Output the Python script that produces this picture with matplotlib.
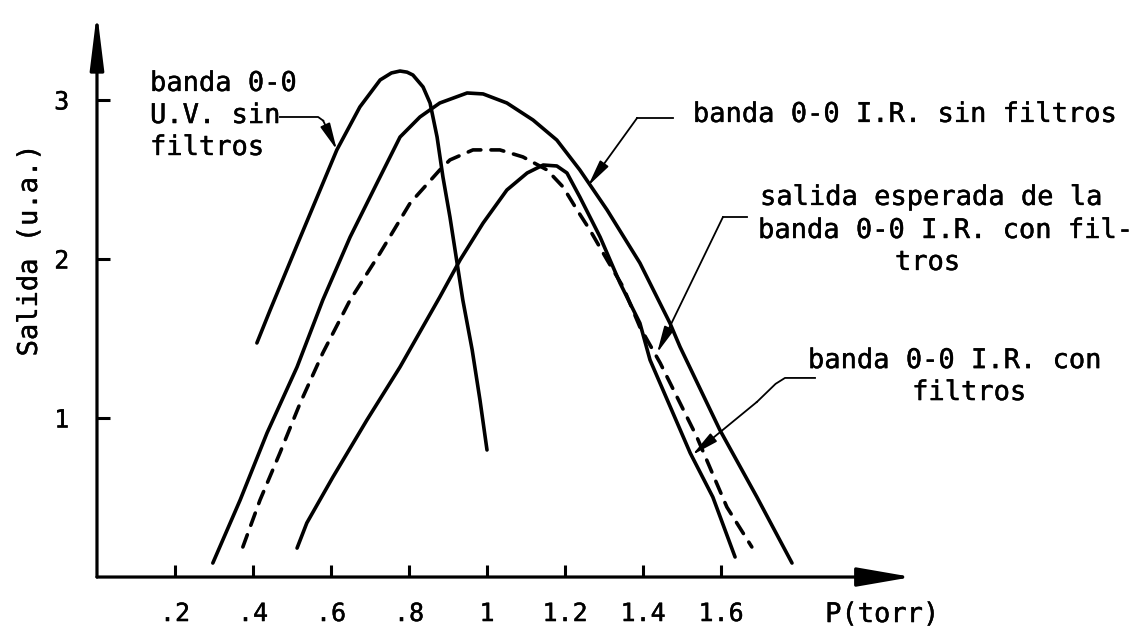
import matplotlib
matplotlib.use("Agg")
import matplotlib.pyplot as plt
import matplotlib.patheffects as pe

# Pressure (torr) and output (arbitrary units) for each band
uv_p = [0.410, 0.444, 0.513, 0.615, 0.674, 0.726, 0.755, 0.777, 0.795, 0.810, 0.836,
        0.854, 0.872, 0.887, 0.905, 0.938, 0.962, 0.982, 1.000]
uv_out = [1.472, 1.679, 2.088, 2.686, 2.956, 3.126, 3.170, 3.182, 3.175, 3.157, 3.082,
          2.981, 2.767, 2.516, 2.264, 1.742, 1.428, 1.113, 0.799]

ir_p = [0.297, 0.367, 0.436, 0.513, 0.579, 0.649, 0.718, 0.777, 0.828, 0.879, 0.949,
        0.990, 1.051, 1.118, 1.179, 1.238, 1.308, 1.392, 1.469, 1.495, 1.597, 1.692, 1.782]
ir_out = [0.088, 0.484, 0.906, 1.321, 1.742, 2.138, 2.478, 2.767, 2.893, 2.981, 3.044,
          3.038, 2.981, 2.874, 2.748, 2.560, 2.308, 1.975, 1.597, 1.447, 0.925, 0.503, 0.088]

exp_p = [0.374, 0.418, 0.469, 0.521, 0.579, 0.649, 0.726, 0.803, 0.879, 0.905, 0.964,
         1.033, 1.092, 1.154, 1.195, 1.231, 1.264, 1.308, 1.349, 1.392, 1.444, 1.538,
         1.615, 1.679]
exp_out = [0.189, 0.484, 0.780, 1.094, 1.409, 1.742, 2.038, 2.352, 2.560, 2.623, 2.686,
           2.686, 2.642, 2.560, 2.453, 2.308, 2.182, 1.994, 1.824, 1.572, 1.346, 0.881,
           0.440, 0.189]

irf_p = [0.513, 0.538, 0.605, 0.692, 0.777, 0.879, 0.931, 0.990, 1.051, 1.103, 1.144,
         1.179, 1.205, 1.238, 1.290, 1.341, 1.392, 1.418, 1.521, 1.579, 1.636]
irf_out = [0.182, 0.340, 0.629, 0.987, 1.321, 1.761, 1.994, 2.226, 2.434, 2.541, 2.591,
           2.585, 2.541, 2.390, 2.138, 1.849, 1.597, 1.365, 0.780, 0.503, 0.126]

x_ticks = [0.2, 0.4, 0.6, 0.8, 1.0, 1.2, 1.4, 1.6]
x_tick_labels = [".2", ".4", ".6", ".8", "1", "1.2", "1.4", "1.6"]
y_ticks = [1, 2, 3]
y_tick_labels = ["1", "2", "3"]

FONT = "DejaVu Sans Mono"
FS = 19.5
plt.rcParams["font.family"] = FONT
heavy = [pe.withStroke(linewidth=0.3, foreground="black")]

fig = plt.figure(figsize=(11.41, 6.27), dpi=100)
ax = fig.add_axes([0.0850, 0.0797, 0.7143, 0.9011])
ax.set_xlim(0, 2.0897)
ax.set_ylim(0, 3.553)

for s in ax.spines.values():
    s.set_visible(False)

# Axes drawn as arrows
ax.annotate("", xy=(0, 1), xytext=(0, 0), xycoords="axes fraction",
            arrowprops=dict(arrowstyle="-|>,head_length=2.6,head_width=0.32",
                            mutation_scale=13, lw=2.3, color="black",
                            shrinkA=0, shrinkB=0), annotation_clip=False)
ax.annotate("", xy=(1, 0), xytext=(0, 0), xycoords="axes fraction",
            arrowprops=dict(arrowstyle="-|>,head_length=2.6,head_width=0.45",
                            mutation_scale=13, lw=2.3, color="black",
                            shrinkA=0, shrinkB=0), annotation_clip=False)

ax.set_xticks(x_ticks)
ax.set_xticklabels(x_tick_labels, fontsize=18)
ax.set_yticks(y_ticks)
ax.set_yticklabels(y_tick_labels, fontsize=18)
for lab in ax.get_xticklabels() + ax.get_yticklabels():
    lab.set_path_effects(heavy)
ax.tick_params(axis="both", direction="in", length=9, width=2.2, color="black")
ax.tick_params(axis="x", pad=18)
ax.tick_params(axis="y", pad=20)

lw = 2.6
ax.plot(uv_p, uv_out, color="black", lw=lw, solid_capstyle="round",
        solid_joinstyle="round", clip_on=False)
ax.plot(ir_p, ir_out, color="black", lw=lw, solid_capstyle="round",
        solid_joinstyle="round", clip_on=False)
ax.plot(exp_p, exp_out, color="black", lw=lw, ls=(0, (3.6, 2.8)),
        dash_capstyle="round", clip_on=False)
ax.plot(irf_p, irf_out, color="black", lw=lw, solid_capstyle="round",
        solid_joinstyle="round", clip_on=False)

# Labels
txt = dict(fontsize=FS, va="baseline", ha="left", color="black",
           clip_on=False, path_effects=heavy)
ax.text(0.136, 3.057, "banda 0-0", **txt)
ax.text(0.136, 2.855, "U.V. sin", **txt)
ax.text(0.136, 2.654, "filtros", **txt)
ax.text(1.528, 2.862, "banda 0-0 I.R. sin filtros", **txt)
ax.text(1.700, 2.340, "salida esperada de la", **txt)
ax.text(1.695, 2.132, "banda 0-0 I.R. con fil-", **txt)
ax.text(2.046, 1.931, "tros", **txt)
ax.text(1.823, 1.314, "banda 0-0 I.R. con", **txt)
ax.text(2.090, 1.113, "filtros", **txt)

ax.text(1.867, -0.283, "P(torr)", **txt)
ax.text(-0.172, 2.057, "Salida (u.a.)", fontsize=FS, rotation=90,
        ha="center", va="center", path_effects=heavy)

# Leader lines with arrowheads
lead = dict(color="black", lw=1.3, solid_joinstyle="round")
head = dict(arrowstyle="-|>,head_length=1.8,head_width=0.35", mutation_scale=9,
            lw=1.3, color="black", shrinkA=0, shrinkB=0)

ax.plot([0.469, 0.567, 0.580], [2.893, 2.893, 2.870], **lead)
ax.annotate("", xy=(0.615, 2.686), xytext=(0.580, 2.870), arrowprops=head)

ax.plot([1.477, 1.385], [2.887, 2.887], **lead)
ax.annotate("", xy=(1.259, 2.459), xytext=(1.385, 2.887), arrowprops=head)

ax.plot([1.667, 1.605], [2.264, 2.264], **lead)
ax.annotate("", xy=(1.436, 1.409), xytext=(1.605, 2.264), arrowprops=head)

ax.plot([1.841, 1.764, 1.740, 1.692], [1.252, 1.252, 1.215, 1.101], **lead)
ax.annotate("", xy=(1.526, 0.767), xytext=(1.692, 1.101), arrowprops=head)

fig.savefig("out.png", dpi=100)
